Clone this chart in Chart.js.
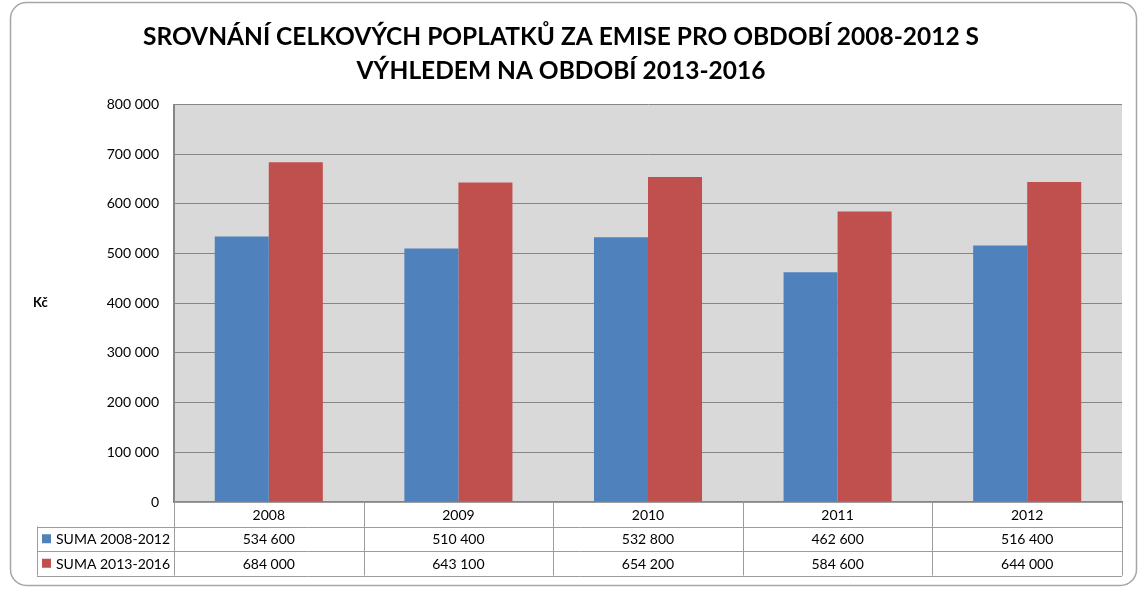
<!DOCTYPE html>
<html>
<head>
<meta charset="utf-8">
<script src="https://cdn.jsdelivr.net/npm/chart.js@4/dist/chart.umd.min.js"></script>
<style>
  html, body { margin: 0; padding: 0; background: #fff; }
  #wrap { width: 1145px; height: 589px; position: relative; }
</style>
</head>
<body>
<div id="wrap"><canvas id="chart"></canvas></div>
<script>
// Chart data
const years = ['2008', '2009', '2010', '2011', '2012'];
const seriesNames = ['SUMA 2008-2012', 'SUMA 2013-2016'];
const suma0812 = [534600, 510400, 532800, 462600, 516400];
const suma1316 = [684000, 643100, 654200, 584600, 644000];
const yTicks = [0, 100000, 200000, 300000, 400000, 500000, 600000, 700000, 800000];

const FONT = 'Lato, "Open Sans", sans-serif';
const BLUE = '#4f81bd';
const RED = '#c0504d';
const GRID = '#868686';
const TABLE_LINE = '#9c9c9c';

// 534600 -> "534 600"
function fmt(v) {
    return String(v).replace(/\B(?=(\d{3})+(?!\d))/g, ' ');
}

// outer frame + plot background
const frame = {
    id: 'frame',
    beforeDraw(chart) {
        const ctx = chart.ctx;
        const a = chart.chartArea;
        ctx.save();
        ctx.fillStyle = '#d9d9d9';
        ctx.fillRect(a.left, a.top, a.right - a.left, a.bottom - a.top);
        ctx.strokeStyle = '#a6a6a6';
        ctx.lineWidth = 1.5;
        ctx.beginPath();
        ctx.roundRect(10.5, 2.5, 1126, 583, 16);
        ctx.stroke();
        ctx.restore();
    }
};

// data table under the plot, plus "Kč" label
const dataTable = {
    id: 'dataTable',
    afterDraw(chart) {
        const ctx = chart.ctx;
        const x = chart.scales.x;
        const a = chart.chartArea;
        const n = years.length;
        const colW = (a.right - a.left) / n;
        const rowH = 24.5;
        const top = a.bottom;
        const rows = [top, top + rowH, top + rowH * 2, top + rowH * 3];
        const labelLeft = 37;
        const series = [suma0812, suma1316];
        const colors = [BLUE, RED];

        ctx.save();
        ctx.strokeStyle = TABLE_LINE;
        ctx.lineWidth = 1;
        ctx.beginPath();
        // horizontal lines
        ctx.moveTo(a.left, Math.round(rows[0]) + 0.5);
        ctx.lineTo(a.right, Math.round(rows[0]) + 0.5);
        for (let r = 1; r < rows.length; r++) {
            ctx.moveTo(labelLeft, Math.round(rows[r]) + 0.5);
            ctx.lineTo(a.right, Math.round(rows[r]) + 0.5);
        }
        // vertical lines
        for (let c = 0; c <= n; c++) {
            const cx = Math.round(a.left + c * colW) + 0.5;
            ctx.moveTo(cx, rows[0]);
            ctx.lineTo(cx, rows[3]);
        }
        ctx.moveTo(labelLeft + 0.5, rows[1]);
        ctx.lineTo(labelLeft + 0.5, rows[3]);
        ctx.stroke();

        ctx.font = '14px ' + FONT;
        ctx.textBaseline = 'middle';
        for (let s = 0; s < series.length; s++) {
            const cy = (rows[s + 1] + rows[s + 2]) / 2;
            ctx.fillStyle = colors[s];
            ctx.fillRect(42, cy - 4.5, 9, 9);
            ctx.fillStyle = '#000';
            ctx.textAlign = 'left';
            ctx.fillText(seriesNames[s], 56, cy + 1);
            ctx.textAlign = 'center';
            series[s].forEach((v, i) => {
                ctx.fillText(fmt(v), x.getPixelForValue(i), cy + 1);
            });
        }

        ctx.font = 'bold 13px ' + FONT;
        ctx.textAlign = 'left';
        ctx.fillText('Kč', 33, (a.top + a.bottom) / 2);
        ctx.restore();
    }
};

const ctx = document.getElementById('chart').getContext('2d');
new Chart(ctx, {
    type: 'bar',
    data: {
        labels: years,
        datasets: [
            { label: seriesNames[0], data: suma0812, backgroundColor: BLUE },
            { label: seriesNames[1], data: suma1316, backgroundColor: RED }
        ]
    },
    options: {
        responsive: true,
        maintainAspectRatio: false,
        animation: false,
        layout: { padding: { left: 0, right: 23, top: 0, bottom: 0 } },
        datasets: {
            bar: { barPercentage: 1, categoryPercentage: 0.57 }
        },
        scales: {
            x: {
                grid: { display: false },
                border: { display: true, color: GRID, width: 2 },
                ticks: { color: '#000', font: { family: FONT, size: 14 }, padding: -3 },
                afterFit: s => { s.height = 87; }
            },
            y: {
                min: 0,
                max: 800000,
                afterBuildTicks: s => { s.ticks = yTicks.map(v => ({ value: v })); },
                grid: { color: GRID, drawTicks: false },
                border: { display: true, color: GRID, width: 2 },
                ticks: {
                    color: '#000',
                    font: { family: FONT, size: 14 },
                    padding: 15,
                    callback: v => fmt(v)
                },
                afterFit: s => { s.width = 174; }
            }
        },
        plugins: {
            legend: { display: false },
            tooltip: { enabled: false },
            title: {
                display: true,
                text: ['SROVNÁNÍ CELKOVÝCH POPLATKŮ ZA EMISE PRO OBDOBÍ 2008-2012 S', 'VÝHLEDEM NA OBDOBÍ 2013-2016'],
                color: '#000',
                font: { family: FONT, size: 24.5, weight: 'bold', lineHeight: 1.38 },
                padding: { top: 20, bottom: 17 }
            }
        }
    },
    plugins: [frame, dataTable]
});
</script>
</body>
</html>
